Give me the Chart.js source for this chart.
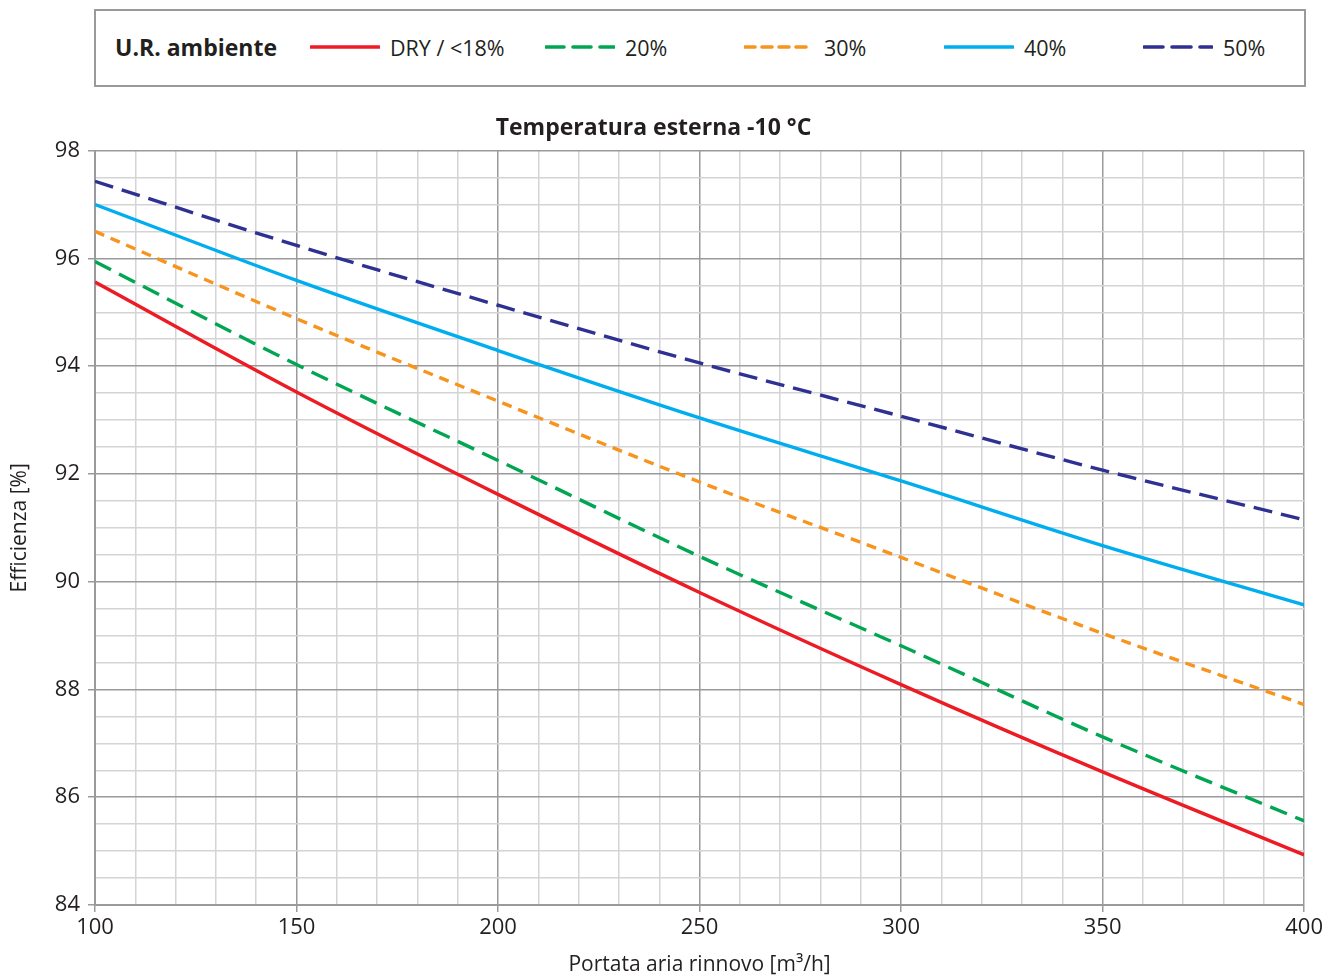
<!DOCTYPE html>
<html>
<head>
<meta charset="utf-8">
<script src="https://cdn.jsdelivr.net/npm/chart.js@4/dist/chart.umd.min.js"></script>
<style>
  html, body { margin: 0; padding: 0; background: #fff; }
  body { width: 1326px; height: 979px; position: relative; overflow: hidden; font-family: "Open Sans", sans-serif; color: #231f20; }
  #legend { position: absolute; left: 94px; top: 9px; width: 1208px; height: 74px; border: 2px solid #9a9a9c; box-sizing: content-box; }
  #legend .head { position: absolute; left: 19px; top: -1px; line-height: 74px; font-size: 23px; font-weight: 700; }
  #legend .item { position: absolute; top: -1px; height: 74px; display: flex; align-items: center; font-size: 21.5px; }
  #legend svg { margin-right: 10px; }
  #wrap { position: absolute; left: 0; top: 0; width: 1326px; height: 979px; }
</style>
</head>
<body>
<div id="legend"></div>
<div id="wrap"><canvas id="c" width="1326" height="979"></canvas></div>
<script>
// Portata aria rinnovo [m³/h]
const portata = [100, 150, 200, 250, 300, 350, 400];

// Efficienza [%] per umidità relativa ambiente
const effDry = [95.56, 93.52, 91.62, 89.80, 88.09, 86.47, 84.93];
const eff20  = [95.94, 94.03, 92.25, 90.47, 88.81, 87.12, 85.56];
const eff30  = [96.50, 94.88, 93.35, 91.85, 90.45, 89.04, 87.72];
const eff40  = [97.00, 95.59, 94.29, 93.04, 91.87, 90.67, 89.57];
const eff50  = [97.43, 96.24, 95.13, 94.06, 93.07, 92.07, 91.15];

const seriesLabels = ['DRY / <18%', '20%', '30%', '40%', '50%'];
const xTickLabels = [100, 150, 200, 250, 300, 350, 400];
const yTickLabels = [84, 86, 88, 90, 92, 94, 96, 98];

const styles = [
  { color: '#ED1C24', dash: [] },
  { color: '#00A651', dash: [18, 9] },
  { color: '#F7941D', dash: [10, 7] },
  { color: '#00AEEF', dash: [] },
  { color: '#2E3192', dash: [19, 9] }
];
const values = [effDry, eff20, eff30, eff40, eff50];

// HTML legend
const legend = document.getElementById('legend');
const head = document.createElement('div');
head.className = 'head';
head.textContent = 'U.R. ambiente';
legend.appendChild(head);
const legendX = [214, 449, 648, 848, 1047];
seriesLabels.forEach((lab, i) => {
  const it = document.createElement('div');
  it.className = 'item';
  it.style.left = legendX[i] + 'px';
  const s = styles[i];
  const dash = s.dash.length ? s.dash.join(',') : 'none';
  it.innerHTML = '<svg width="70" height="8"><line x1="1" y1="4" x2="69" y2="4" stroke="' + s.color +
    '" stroke-width="3.6" stroke-linecap="round" stroke-dasharray="' + dash + '"/></svg>';
  const t = document.createElement('span');
  t.textContent = lab;
  it.appendChild(t);
  legend.appendChild(it);
});

const datasets = values.map((v, i) => ({
  label: seriesLabels[i],
  data: portata.map((x, j) => ({ x: x, y: v[j] })),
  borderColor: styles[i].color,
  borderWidth: 3.4,
  borderDash: styles[i].dash,
  pointRadius: 0,
  fill: false,
  cubicInterpolationMode: 'monotone'
}));

const major = '#9a9a9c';
const minor = '#d4d4d6';

new Chart(document.getElementById('c'), {
  type: 'line',
  data: { datasets },
  options: {
    responsive: false,
    animation: false,
    layout: { padding: { top: 104, right: 19, bottom: 0, left: 0 } },
    plugins: {
      legend: { display: false },
      tooltip: { enabled: false },
      title: {
        display: true,
        text: 'Temperatura esterna -10 °C',
        color: '#231f20',
        font: { family: 'Open Sans', size: 23, weight: 'bold', lineHeight: 1.2 },
        padding: { top: 11, bottom: 8 }
      }
    },
    scales: {
      x: {
        type: 'linear',
        min: 100,
        max: 400,
        afterFit: s => { s.height = 74; },
        ticks: {
          stepSize: 10,
          autoSkip: false,
          maxRotation: 0,
          padding: 3,
          color: '#231f20',
          font: { family: 'Open Sans', size: 22 },
          callback: v => (xTickLabels.includes(v) ? String(v) : '')
        },
        grid: {
          color: c => (c.tick && c.tick.value % 50 === 0 ? major : minor),
          lineWidth: 1.5,
          tickLength: 7,
          tickColor: c => (c.tick && c.tick.value % 50 === 0 ? major : 'rgba(0,0,0,0)')
        },
        border: { color: major, width: 2 },
        title: {
          display: true,
          text: 'Portata aria rinnovo [m³/h]',
          color: '#231f20',
          font: { family: 'Open Sans', size: 21, lineHeight: 1.2 },
          padding: { top: 0, bottom: 1 }
        }
      },
      y: {
        min: 84,
        max: 98,
        afterFit: s => { s.width = 95; },
        ticks: {
          stepSize: 0.5,
          autoSkip: false,
          padding: 8,
          color: '#231f20',
          font: { family: 'Open Sans', size: 22 },
          callback: v => (yTickLabels.includes(v) ? String(v) : '')
        },
        grid: {
          color: c => (c.tick && c.tick.value % 2 === 0 ? major : minor),
          lineWidth: 1.5,
          tickLength: 7,
          tickColor: c => (c.tick && c.tick.value % 2 === 0 ? major : 'rgba(0,0,0,0)')
        },
        border: { color: major, width: 2 },
        title: {
          display: true,
          text: 'Efficienza [%]',
          color: '#231f20',
          font: { family: 'Open Sans', size: 21, lineHeight: 1.2 },
          padding: { top: 7, bottom: 0 }
        }
      }
    }
  }
});
</script>
</body>
</html>
